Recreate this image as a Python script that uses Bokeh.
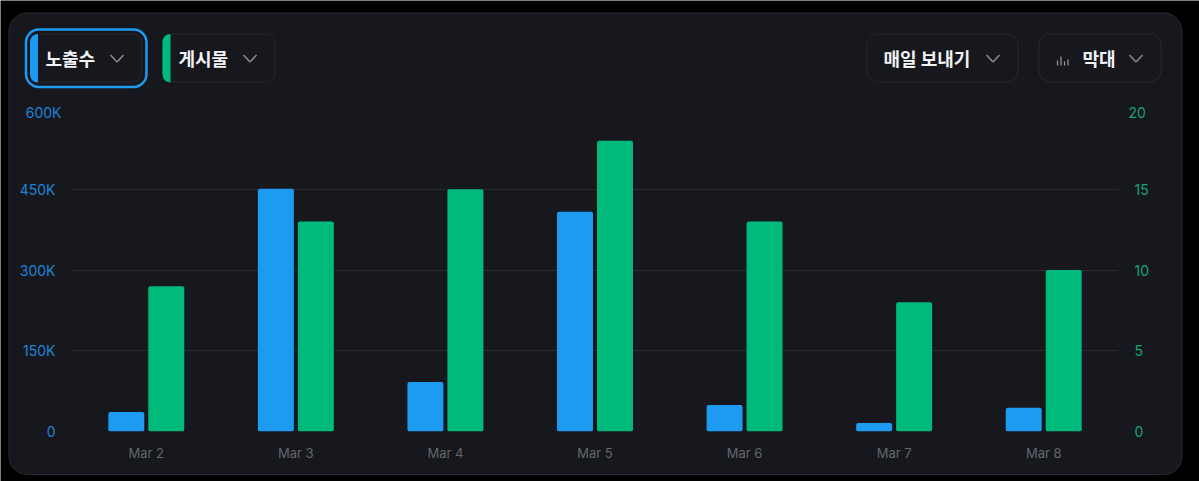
from bokeh.embed import file_html
from bokeh.layouts import column, row
from bokeh.models import Arrow, BoxAnnotation, FixedTicker, Label, LinearAxis, Range1d
from bokeh.plotting import figure
from bokeh.resources import INLINE
from bokeh.transform import dodge

days = ["Mar 2", "Mar 3", "Mar 4", "Mar 5", "Mar 6", "Mar 7", "Mar 8"]
impressions = [36000, 451000, 92000, 408000, 49000, 16000, 44000]
posts = [9, 13, 15, 18, 13, 8, 10]

left_ticks = [0, 150000, 300000, 450000]
left_labels = {0: "0", 150000: "150K", 300000: "300K", 450000: "450K"}
left_top = 600000
left_top_label = "600K"
right_ticks = [0, 5, 10, 15]
right_top = 20
right_top_label = "20"

W, H = 1199, 481
BLUE = "#1d9bf0"
GREEN = "#00ba7c"
BLUE_TEXT = "#1d84d8"
GREEN_TEXT = "#17a471"
BG = "#16181d"
LINE = "#292b30"
BTN_LINE = "#26282d"
KR = "Noto Sans CJK KR"
LATIN = "Inter"

# annotations get clipped to the frame, so the card and controls live in a
# full-bleed figure behind the chart
back = figure(width=W, height=H, x_range=Range1d(0, W), y_range=Range1d(H, 0),
              output_backend="svg", toolbar_location=None,
              x_axis_location=None, y_axis_location=None, min_border=0,
              background_fill_color="#000000", border_fill_color="#000000", outline_line_color=None)
back.grid.visible = False


def box(left, right, top, bottom, fill=None, line=None, width=1, radius=0):
    back.add_layout(BoxAnnotation(left=left, right=right, top=top, bottom=bottom,
                                  left_units="canvas", right_units="canvas", top_units="canvas", bottom_units="canvas",
                                  fill_color=fill, fill_alpha=1 if fill else 0, line_color=line, line_width=width,
                                  line_alpha=1 if line else 0, border_radius=radius, editable=False))


def stroke(x0, y0, x1, y1, color="#8a8c90", width=1.5):
    back.add_layout(Arrow(end=None, x_start=x0, y_start=y0, x_end=x1, y_end=y1,
                          start_units="canvas", end_units="canvas", line_color=color, line_width=width))


def label(x, y, text):
    back.add_layout(Label(x=x, y=y, x_units="canvas", y_units="canvas", text=text,
                          text_color="#f1f3f5", text_font=KR, text_font_size="18px", text_font_style="bold",
                          text_baseline="middle", text_align="left"))


def chevron(x):
    stroke(x, 54.5, x + 6.5, 61.5)
    stroke(x + 6.5, 61.5, x + 13, 54.5)


box(8.5, 1181.5, 12.5, 474, fill=BG, line=LINE, radius=18)
box(25.5, 146, 29, 86.5, line=BLUE, width=2.5, radius=13)
box(30, 141, 33.5, 81.5, line=BTN_LINE, radius=9)
box(29.5, 37.5, 33.5, 82, fill=BLUE, radius={"top_left": 9, "bottom_left": 9, "top_right": 0, "bottom_right": 0})
box(162, 274.5, 33.5, 81.5, line=BTN_LINE, radius=9)
box(162, 170, 33.5, 82, fill=GREEN, radius={"top_left": 9, "bottom_left": 9, "top_right": 0, "bottom_right": 0})
box(866.5, 1017.5, 33.5, 81.5, line=BTN_LINE, radius=11)
box(1038.5, 1160.5, 33.5, 81.5, line=BTN_LINE, radius=11)

label(45, 57, "노출수")
label(178, 57, "게시물")
label(883, 57, "매일 보내기")
label(1082, 57, "막대")
for cx in [110, 243, 986, 1129]:
    chevron(cx)
for bx, top in [(1057, 60), (1060.5, 56), (1064, 61), (1067.5, 59)]:
    stroke(bx, top, bx, 65, color="#9a9ca0", width=1.2)

# top tick labels sit lower than their grid line
back.add_layout(Label(x=61, y=112, x_units="canvas", y_units="canvas", text=left_top_label, text_align="right",
                      text_baseline="middle", text_color=BLUE_TEXT, text_font=LATIN, text_font_size="14px"))
back.add_layout(Label(x=1128, y=112, x_units="canvas", y_units="canvas", text=right_top_label, text_align="left",
                      text_baseline="middle", text_color=GREEN_TEXT, text_font=LATIN, text_font_size="14px"))

p = figure(width=W, height=H, x_range=days, y_range=Range1d(0, left_top),
           output_backend="svg", toolbar_location=None,
           min_border_left=71, min_border_right=81, min_border_top=108, min_border_bottom=50,
           background_fill_color=None, border_fill_color=None, outline_line_color=None)
p.extra_y_ranges = {"posts": Range1d(0, right_top)}

radius = {"top_left": 2, "top_right": 2, "bottom_left": 2, "bottom_right": 2}
p.vbar(x=dodge("day", -20 / 149.6, range=p.x_range), top="impressions", width=36 / 149.6,
       source={"day": days, "impressions": impressions},
       fill_color=BLUE, line_color=None, border_radius=radius)
p.vbar(x=dodge("day", 20 / 149.6, range=p.x_range), top="posts", width=36 / 149.6, y_range_name="posts",
       source={"day": days, "posts": posts},
       fill_color=GREEN, line_color=None, border_radius=radius)

p.xgrid.grid_line_color = None
p.ygrid.ticker = FixedTicker(ticks=left_ticks + [left_top])
p.ygrid.grid_line_color = LINE
p.ygrid.level = "underlay"

p.xaxis.axis_line_color = None
p.xaxis.major_tick_line_color = None
p.xaxis.minor_tick_line_color = None
p.xaxis.major_label_text_color = "#63666b"
p.xaxis.major_label_text_font = LATIN
p.xaxis.major_label_text_font_size = "13px"
p.xaxis.major_label_standoff = 7

p.yaxis.ticker = FixedTicker(ticks=left_ticks)
p.yaxis.major_label_overrides = left_labels
right_axis = LinearAxis(y_range_name="posts", ticker=FixedTicker(ticks=right_ticks))
p.add_layout(right_axis, "right")
for axis, color in [(p.yaxis[0], BLUE_TEXT), (right_axis, GREEN_TEXT)]:
    axis.axis_line_color = None
    axis.major_tick_line_color = None
    axis.minor_tick_line_color = None
    axis.major_label_text_color = color
    axis.major_label_text_font = LATIN
    axis.major_label_text_font_size = "14px"
    axis.major_label_standoff = 10

# wrapped in its own row so the two frames are not aligned with each other
page = column(back, row(p, margin=(-H, 0, 0, 0)), spacing=0)
open("out.html", "w").write(file_html(page, INLINE))
